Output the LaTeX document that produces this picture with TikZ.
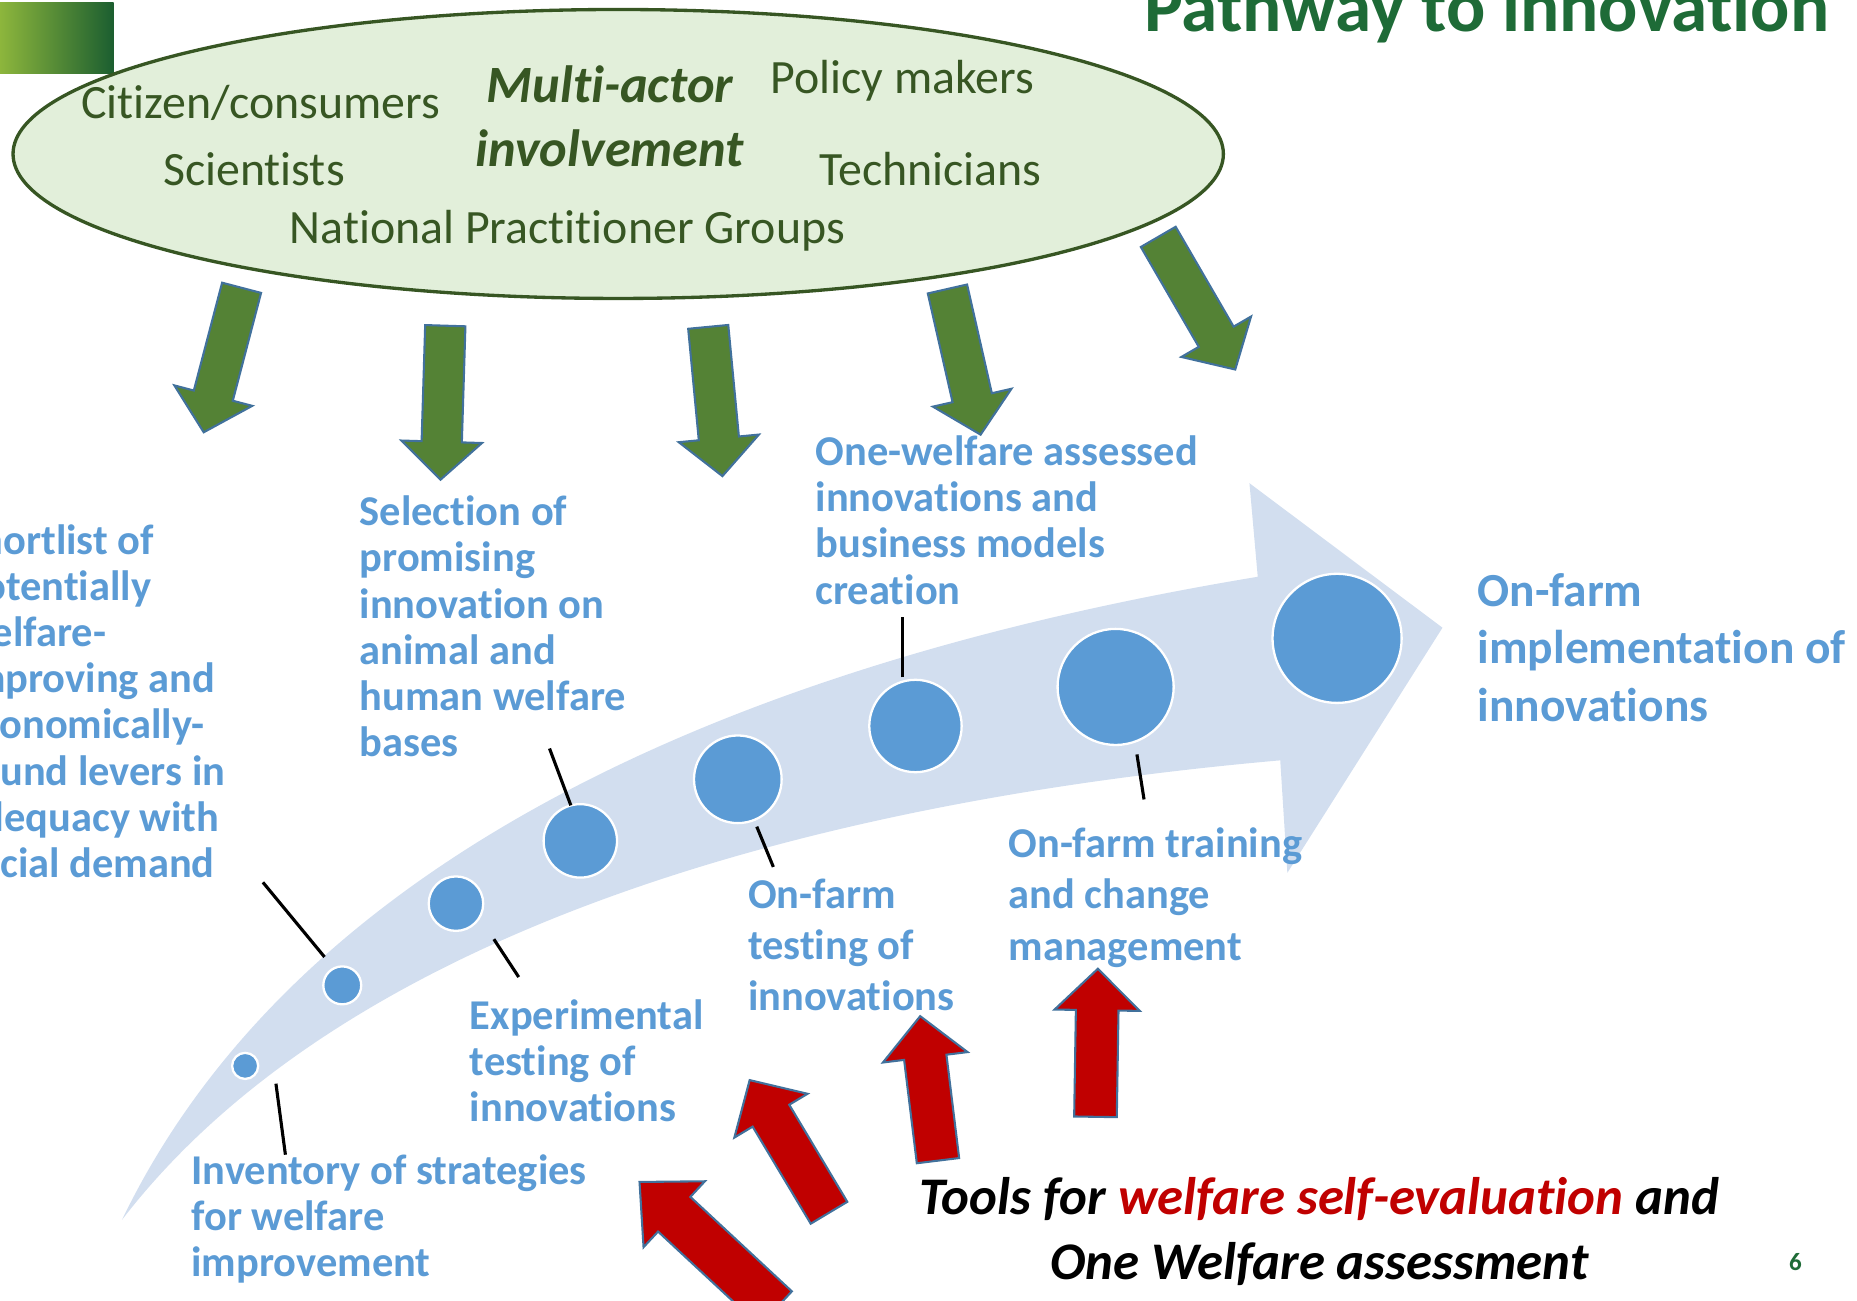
\documentclass[tikz,border=0pt]{standalone}
\usepackage{fontspec}
\setmainfont{Carlito}[Ligatures=NoCommon]
\usetikzlibrary{calc}
\definecolor{bandblue}{HTML}{D2DEEF}
\definecolor{dotblue}{HTML}{5B9BD5}
\definecolor{arrowgreen}{HTML}{548235}
\definecolor{edgeblue}{HTML}{41719C}
\definecolor{toolred}{HTML}{C00000}
\definecolor{actorfill}{HTML}{E2EFDA}
\definecolor{actorgreen}{HTML}{375623}
\definecolor{titlegreen}{HTML}{1E6B37}
\definecolor{squarelight}{HTML}{8DB63C}
\definecolor{squaredark}{HTML}{1B5E30}
% style, tail, tip, shaft half width, head half width, head length
\newcommand{\blockarrow}[6]{
  \coordinate (hb) at ($(#3)!#6!(#2)$);
  \draw [#1]
    ($(#2)!#4!90:(#3)$)
    -- ($(hb)!#4!90:(#3)$)
    -- ($(hb)!#5!90:(#3)$)
    -- (#3)
    -- ($(hb)!#5!-90:(#3)$)
    -- ($(hb)!#4!-90:(#3)$)
    -- ($(#2)!#4!-90:(#3)$)
    -- cycle
  ;
}
\tikzset{
  greenarrow/.style={fill=arrowgreen,draw=edgeblue,line width=0.5pt,line join=miter},
  redarrow/.style={fill=toolred,draw=edgeblue,line width=0.5pt,line join=miter},
  stepdot/.style={circle,fill=dotblue,draw=white,line width=0.55pt,inner sep=0pt},
  % anchored at the baseline of the last line
  stagetext/.style={anchor=base west,align=left,inner sep=0pt,text=dotblue,
    font=\bfseries\fontsize{10.2pt}{11.1pt}\selectfont},
  actortext/.style={anchor=base west,inner sep=0pt,text=actorgreen,
    font=\fontsize{11.5pt}{13pt}\selectfont},
  leader/.style={line width=0.75pt},
}
\begin{document}
\begin{tikzpicture}[x=0.1mm,y=-0.1mm]
  \useasboundingbox (0,0) rectangle (1568,1098);
  % corner square and title
  \shade [left color=squarelight,right color=squaredark]
    (0,2) rectangle (96,62);
  \node [anchor=base east,inner sep=0pt,text=titlegreen,
    font=\bfseries\fontsize{17.6pt}{20pt}\selectfont]
    (title) at (1545,27) {Pathway to innovation};
  % actors
  \draw [fill=actorfill,draw=actorgreen,line width=0.8pt]
    (522,130) ellipse [x radius=51.1mm,y radius=12.2mm];
  \node [actortext] (citizens) at (68,100) {Citizen/consumers};
  \node [actortext] (scientists) at (137,157) {Scientists};
  \node [actortext] (npg) at (244,206) {National Practitioner Groups};
  \node [actortext] (policy) at (650,79) {Policy makers};
  \node [actortext] (technicians) at (691,157) {Technicians};
  \node [anchor=base,align=center,inner sep=0pt,text=actorgreen,
    font=\bfseries\itshape\fontsize{12.6pt}{15.6pt}\selectfont]
    (multiactor) at (515,141) {Multi-actor\\involvement};
  % green arrows
  \coordinate (gtail1) at (204,243);  \coordinate (gtip1) at (172,365);
  \coordinate (gtail2) at (376,275);  \coordinate (gtip2) at (372,405);
  \coordinate (gtail3) at (598,276);  \coordinate (gtip3) at (610,402);
  \coordinate (gtail4) at (800,244);  \coordinate (gtip4) at (828,367);
  \coordinate (gtail5) at (978,200);  \coordinate (gtip5) at (1043,312);
  \foreach \i in {1,...,5}
    {\blockarrow{greenarrow}{gtail\i}{gtip\i}{1.7mm}{3.4mm}{3.2mm}}
  % pathway band
  \fill [bandblue]
    (103,1030)
    .. controls (250,725) and (620,560) .. (1062,487)
    -- (1055,408)
    -- (1218,530)
    -- (1087,737)
    -- (1081,642)
    .. controls (650,680) and (280,800) .. (103,1030)
    -- cycle
  ;
  % steps
  \node [stepdot,minimum size=2.2mm] (step1) at (207,900) {};
  \node [stepdot,minimum size=3.2mm] (step2) at (289,832) {};
  \node [stepdot,minimum size=4.6mm] (step3) at (385,763) {};
  \node [stepdot,minimum size=6.2mm] (step4) at (490,710) {};
  \node [stepdot,minimum size=7.4mm] (step5) at (623,658) {};
  \node [stepdot,minimum size=7.8mm] (step6) at (773,613) {};
  \node [stepdot,minimum size=9.8mm] (step7) at (942,580) {};
  \node [stepdot,minimum size=10.9mm] (step8) at (1129,539) {};
  % stage labels
  \node [stagetext] (inventory) at (161,1078)
    {Inventory of strategies\\for welfare\\improvement};
  \node [stagetext] (shortlist) at (-34,741)
    {Shortlist of\\potentially\\welfare-\\improving and\\economically-\\sound levers in\\adequacy with\\social demand};
  \node [stagetext] (experimental) at (396,947)
    {Experimental\\testing of\\innovations};
  \node [stagetext] (selection) at (303,639)
    {Selection of\\promising\\innovation on\\animal and\\human welfare\\bases};
  \node [stagetext,font=\bfseries\fontsize{10.2pt}{12.2pt}\selectfont]
    (farmtesting) at (631,853) {On-farm\\testing of\\innovations};
  \node [stagetext] (onewelfare) at (688,510)
    {One-welfare assessed\\innovations and\\business models\\creation};
  \node [stagetext,font=\bfseries\fontsize{10.2pt}{12.4pt}\selectfont]
    (training) at (851,811) {On-farm training\\and change\\management};
  \node [stagetext,font=\bfseries\fontsize{11.4pt}{13.8pt}\selectfont]
    (implementation) at (1247,609) {On-farm\\implementation of\\innovations};
  % leaders
  \coordinate (l1a) at (233,915);  \coordinate (l1b) at (241,975);
  \coordinate (l2a) at (274,808);  \coordinate (l2b) at (222,745);
  \coordinate (l3a) at (417,793);  \coordinate (l3b) at (438,825);
  \coordinate (l4a) at (482,680);  \coordinate (l4b) at (464,632);
  \coordinate (l5a) at (639,698);  \coordinate (l5b) at (653,732);
  \coordinate (l6a) at (762,572);  \coordinate (l6b) at (762,521);
  \coordinate (l7a) at (960,637);  \coordinate (l7b) at (966,675);
  \foreach \i in {1,...,7}
    {\draw [leader] (l\i a) -- (l\i b);}
  % red arrows
  \coordinate (rtail1) at (655,1105); \coordinate (rtip1) at (540,998);
  \coordinate (rtail2) at (700,1024); \coordinate (rtip2) at (633,912);
  \coordinate (rtail3) at (792,980);  \coordinate (rtip3) at (777,858);
  \coordinate (rtail4) at (925,943);  \coordinate (rtip4) at (927,818);
  \blockarrow{redarrow}{rtail1}{rtip1}{2.0mm}{3.8mm}{4.0mm}
  \foreach \i in {2,3,4}
    {\blockarrow{redarrow}{rtail\i}{rtip\i}{1.8mm}{3.6mm}{3.5mm}}
  % tools
  \node [anchor=base,align=center,inner sep=0pt,
    font=\bfseries\itshape\fontsize{12.7pt}{15.4pt}\selectfont]
    (tools) at (1114,1080)
    {Tools for \textcolor{toolred}{welfare self-evaluation} and\\One Welfare assessment};
  \node [inner sep=0pt,text=titlegreen,font=\bfseries\fontsize{6pt}{7pt}\selectfont]
    (pagenum) at (1516,1066) {6};
\end{tikzpicture}
\end{document}
